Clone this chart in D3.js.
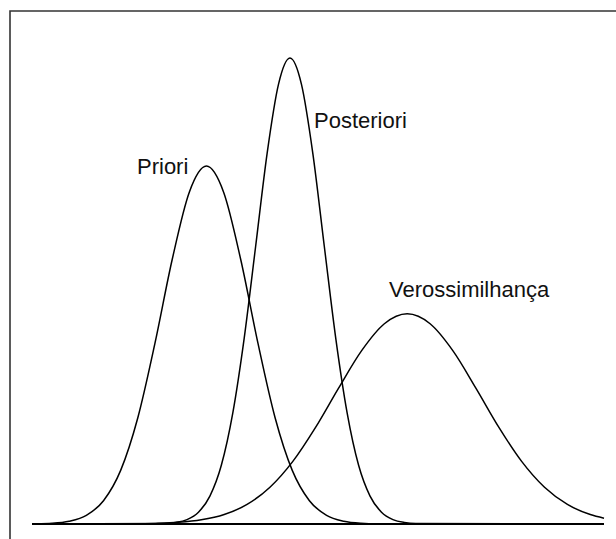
<!DOCTYPE html>
<html>
<head>
<meta charset="utf-8">
<script src="https://cdn.jsdelivr.net/npm/d3@7"></script>
<style>
  body { margin: 0; background: #fff; }
  svg { display: block; }
</style>
</head>
<body>
<svg id="chart"></svg>
<script>
// curve samples (x and height in arbitrary units)
const prioriX = [0, 0.5, 3.5, 6.5, 9.5, 12.5, 15.5, 18.5, 21.5, 24.5, 27.5, 30.5, 33.5, 36.5, 39.5, 42.5, 45.5, 48.5, 51.5, 54.5, 57.5, 60.5, 70, 100]
const prioriY = [0.03, 0.04, 0.16, 0.6, 1.86, 4.99, 11.5, 22.8, 38.8, 56.7, 71.2, 76.8, 71.2, 56.7, 38.8, 22.8, 11.5, 4.99, 1.86, 0.6, 0.16, 0.04, 0, 0]

const posterioriX = [0, 23.1, 25.1, 27.1, 29.1, 31.1, 33.1, 35.1, 37.1, 39.1, 41.1, 43.1, 45.1, 47.1, 49.1, 51.1, 53.1, 55.1, 57.1, 59.1, 61.1, 63.1, 65.1, 67.1, 100]
const posterioriY = [0, 0.1, 0.32, 0.95, 2.53, 5.99, 12.6, 23.8, 39.9, 59.6, 79.5, 94.4, 100, 94.4, 79.5, 59.6, 39.9, 23.8, 12.6, 5.99, 2.53, 0.95, 0.32, 0.1, 0]

const verossX = [0, 1.6, 5.6, 9.6, 13.6, 17.6, 21.6, 25.6, 29.6, 33.6, 37.6, 41.6, 45.6, 49.6, 53.6, 57.6, 61.6, 65.6, 69.6, 73.6, 77.6, 81.6, 85.6, 89.6, 93.6, 97.6, 100]
const verossY = [0, 0, 0.005, 0.01, 0.02, 0.04, 0.13, 0.35, 0.89, 2.03, 4.2, 7.88, 13.43, 20.78, 29.16, 37.15, 42.97, 45.1, 42.97, 37.15, 29.16, 20.78, 13.43, 7.88, 4.2, 2.03, 1.25]

const labels = ['Priori', 'Posteriori', 'Verossimilhança']

const width = 616, height = 539

const svg = d3.select('#chart')
  .attr('width', width)
  .attr('height', height)

const x = d3.scaleLinear().domain([0, 100]).range([32, 604])
const y = d3.scaleLinear().domain([0, 100]).range([524, 58])

// frame: top and left edges only
svg.append('path')
  .attr('d', 'M10,539 V11 H616')
  .attr('fill', 'none')
  .attr('stroke', '#333')
  .attr('stroke-width', 1.6)

const line = d3.line()
  .x(d => x(d[0]))
  .y(d => y(d[1]))
  .curve(d3.curveMonotoneX)

const series = [
  d3.zip(prioriX, prioriY),
  d3.zip(posterioriX, posterioriY),
  d3.zip(verossX, verossY)
]

svg.append('g')
  .selectAll('path')
  .data(series)
  .enter().append('path')
  .attr('d', line)
  .attr('fill', 'none')
  .attr('stroke', '#000')
  .attr('stroke-width', 1.5)

// baseline
svg.append('line')
  .attr('x1', x(0)).attr('x2', x(100))
  .attr('y1', y(0)).attr('y2', y(0))
  .attr('stroke', '#000')
  .attr('stroke-width', 2.2)

const labelPos = [[137, 174], [314, 128], [389, 297]]

svg.append('g')
  .selectAll('text')
  .data(labels)
  .enter().append('text')
  .attr('x', (d, i) => labelPos[i][0])
  .attr('y', (d, i) => labelPos[i][1])
  .attr('font-family', 'Liberation Sans, Arial, sans-serif')
  .attr('font-size', 22)
  .attr('fill', '#111')
  .text(d => d)
</script>
</body>
</html>
